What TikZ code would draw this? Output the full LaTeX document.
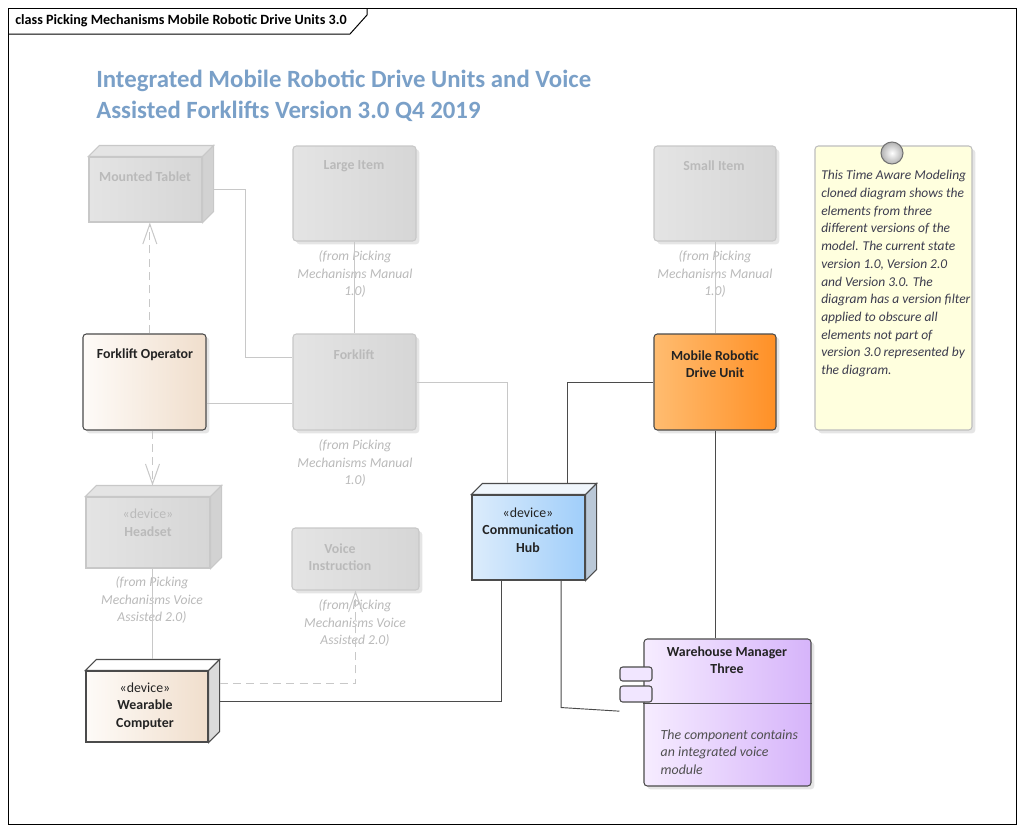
\documentclass[tikz,border=0pt]{standalone}
\usepackage{fontspec}
\setmainfont{Carlito}
\usetikzlibrary{arrows.meta,fit,shadows}

\definecolor{ttlblue}{RGB}{122,160,200}
\definecolor{ghostL}{RGB}{228,228,228}
\definecolor{ghostR}{RGB}{214,214,214}
\definecolor{ghostside}{RGB}{210,210,210}
\definecolor{ghostline}{RGB}{200,200,200}
\definecolor{ghosttext}{RGB}{186,186,186}
\definecolor{darkline}{RGB}{75,75,75}
\definecolor{darktext}{RGB}{35,35,35}
\definecolor{peachL}{RGB}{254,251,248}
\definecolor{peachR}{RGB}{240,222,204}
\definecolor{wearside}{RGB}{218,218,218}
\definecolor{blueL}{RGB}{220,236,251}
\definecolor{blueR}{RGB}{160,206,250}
\definecolor{hubtop}{RGB}{240,246,252}
\definecolor{hubside}{RGB}{186,200,215}
\definecolor{orangeL}{RGB}{255,188,112}
\definecolor{orangeR}{RGB}{255,144,38}
\definecolor{lilacL}{RGB}{246,236,255}
\definecolor{lilacR}{RGB}{214,180,250}
\definecolor{lilacpart}{RGB}{241,230,255}
\definecolor{notefill}{RGB}{255,255,222}
\definecolor{noteline}{RGB}{190,190,190}
\definecolor{notetext}{RGB}{60,60,78}

\tikzset{
  elem/.style={inner sep=0pt, rounded corners=2.5pt, line width=0.8pt,
    drop shadow={shadow xshift=2.5pt, shadow yshift=-2.5pt, opacity=0.1, fill=black}},
  ghost/.style={elem, draw=ghostline, left color=ghostL, right color=ghostR},
  live/.style={elem, draw=darkline},
  cube/.style={inner sep=0pt, line width=0.8pt},
  gtext/.style={text=ghosttext, font=\bfseries\fontsize{10.4}{13.2}\selectfont, align=center},
  ltext/.style={text=darktext, font=\bfseries\fontsize{10.4}{13.2}\selectfont, align=center},
  from/.style={text=ghosttext, font=\itshape\fontsize{10.2}{13.2}\selectfont, align=center},
  gline/.style={draw=ghostline, line width=0.75pt},
  dline/.style={draw=darkline, line width=0.7pt},
  gdash/.style={gline, dash pattern=on 6pt off 4pt},
  varrow/.style={-{Straight Barb[length=15pt,width=10.5pt]}}
}

\begin{document}
\begin{tikzpicture}[x=0.75pt,y=-0.75pt]
\useasboundingbox (0,0) rectangle (1025,832);
\fill[white] (0,0) rectangle (1025,832);

% frame and tab
\draw[line width=0.75pt] (8,8) rectangle (1016,824);
\draw[line width=0.75pt] (8,34) -- (350,34) -- (367,15) -- (367,8);
\node[anchor=west, inner sep=0pt, font=\bfseries\fontsize{10.6}{12}\selectfont] (frm) at (15,21)
  {class Picking Mechanisms Mobile Robotic Drive Units 3.0};

% heading
\node[anchor=west, inner sep=0pt, text=ttlblue, font=\bfseries\fontsize{18.6}{22}\selectfont] (ttl1) at (96,81)
  {Integrated Mobile Robotic Drive Units and Voice};
\node[anchor=west, inner sep=0pt, text=ttlblue, font=\bfseries\fontsize{18.6}{22}\selectfont] (ttl2) at (96,111)
  {Assisted Forklifts Version 3.0 Q4 2019};

% elements
\node[cube, draw=ghostline, left color=ghostL, right color=ghostR, fit={(89,157) (202,222)}] (tab) {};
\node[ghost, fit={(293,146) (416,241)}] (large) {};
\node[ghost, fit={(654,146) (776,241)}] (small) {};
\node[live, left color=peachL, right color=peachR, fit={(83,334) (206,430)}] (oper) {};
\node[ghost, fit={(293,334) (416,430)}] (fork) {};
\node[cube, draw=ghostline, left color=ghostL, right color=ghostR, fit={(86,497) (210,568)}] (head) {};
\node[ghost, fit={(292,528) (419,590)}] (voice) {};
\node[cube, draw=darkline, left color=peachL, right color=peachR, fit={(86,671) (208,742)}] (wear) {};
\node[cube, draw=darkline, left color=blueL, right color=blueR, fit={(472,495) (585,580)}] (hub) {};
\node[live, left color=orangeL, right color=orangeR, fit={(654,334) (776,430)}] (mobile) {};
\node[live, left color=lilacL, right color=lilacR, fit={(644,639) (811,786)}] (wm) {};
\node[elem, draw=noteline, fill=notefill, fit={(815,146) (972,430)}] (note) {};

% cube faces
\foreach \n/\tc/\sc/\lc in {tab/ghostL/ghostside/ghostline, head/ghostL/ghostside/ghostline,
                             wear/white/wearside/darkline, hub/hubtop/hubside/darkline}{
  \draw[line width=0.8pt, draw=\lc, fill=\tc] (\n.north west) -- ++(11,-11)
    -- ([shift={(11,-11)}]\n.north east) -- (\n.north east) -- cycle;
  \draw[line width=0.8pt, draw=\lc, fill=\sc] (\n.north east) -- ([shift={(11,-11)}]\n.north east)
    -- ([shift={(11,-11)}]\n.south east) -- (\n.south east) -- cycle;
}

% component parts
\draw[dline] ([yshift=7.1pt]wm.west) -- ([yshift=7.1pt]wm.east);
\node[draw=darkline, line width=0.8pt, fill=lilacpart, rounded corners=2pt, inner sep=0pt,
  fit={(620,667) (652,681)}] (wmp1) {};
\node[draw=darkline, line width=0.8pt, fill=lilacpart, rounded corners=2pt, inner sep=0pt,
  fit={(620,686) (652,702)}] (wmp2) {};

% note pin
\shade[inner color=white, outer color=black!30, draw=black!55, line width=0.8pt] (892,153) circle (11);
\node[inner sep=0pt] (pin) at (892,153) {};

% labels
\node[gtext] (tab-t) at (145,177) {Mounted Tablet};
\node[gtext] (large-t) at (354,166) {Large Item};
\node[gtext] (small-t) at (714,166) {Small Item};
\node[ltext] (oper-t) at (145,355) {Forklift Operator};
\node[gtext] (fork-t) at (354,355) {Forklift};
\node[gtext] (head-t) at (148,523) {\mdseries«device»\\Headset};
\node[gtext] (voice-t) at (340,557) {Voice\\Instruction};
\node[ltext] (wear-t) at (145,706) {\mdseries«device»\\Wearable\\Computer};
\node[ltext] (hub-t) at (528,530) {\mdseries«device»\\Communication\\Hub};
\node[ltext] (mobile-t) at (715,364) {Mobile Robotic\\Drive Unit};
\node[ltext] (wm-t) at (727,660) {Warehouse Manager\\Three};
\node[text=darktext!80, font=\itshape\fontsize{10.4}{13.2}\selectfont, align=left, anchor=west] (wm-d)
  at (656,752) {The component contains\\an integrated voice\\module};

\node[from] (large-f) at (355,274) {(from Picking\\Mechanisms Manual\\1.0)};
\node[from] (small-f) at (715,274) {(from Picking\\Mechanisms Manual\\1.0)};
\node[from] (fork-f) at (355,463) {(from Picking\\Mechanisms Manual\\1.0)};
\node[from] (head-f) at (152,600) {(from Picking\\Mechanisms Voice\\Assisted 2.0)};
\node[from] (voice-f) at (355,623) {(from Picking\\Mechanisms Voice\\Assisted 2.0)};

\node[text=notetext, font=\itshape\fontsize{10.1}{13.3}\selectfont, align=left, anchor=north west, inner sep=0pt]
  (note-t) at (821,170) {This Time Aware Modeling\\cloned diagram shows the\\elements from three\\
  different versions of the\\model. The current state\\version 1.0, Version 2.0\\and Version 3.0. The\\
  diagram has a version filter\\applied to obscure all\\elements not part of\\
  version 3.0 represented by\\the diagram.};

% connectors
\coordinate (k1) at (245,357);
\draw[gline] ([xshift=8.25pt]tab.east) -| (k1) -- (k1 -| fork.west);
\coordinate (d1) at ([xshift=4pt]oper.north);
\draw[gdash, varrow] (d1) -- (d1 |- tab.south);
\draw[gline] ([yshift=-15.75pt]oper.east) -- ([yshift=-15.75pt]fork.west);
\draw[gline] (large.south) -- (fork.north);
\draw[gline] (fork.east) -| ([xshift=-16.1pt,yshift=8.25pt]hub.north);
\coordinate (d2) at ([xshift=6pt]oper.south);
\draw[gdash, varrow] (d2) -- ([yshift=8.25pt]d2 |- head.north);
\coordinate (d3) at ([xshift=3pt]head.south);
\draw[gline] (d3) -- ([yshift=8.25pt]d3 |- wear.north);
\draw[gdash, varrow] ([xshift=8.25pt,yshift=16.9pt]wear.east) -| (voice.south);
\draw[gline] (small.south) -- (mobile.north);
\draw[dline] ([xshift=8.25pt,yshift=4pt]wear.east) -| ([xshift=-20.6pt]hub.south);
\draw[dline] ([xshift=28.9pt,yshift=8.25pt]hub.north) |- (mobile.west);
\draw[dline] ([xshift=24.4pt]hub.south) -- ++(0,127) -- ([xshift=-18pt,yshift=1pt]wm.west);
\draw[dline] (mobile.south) -- (mobile.south |- wm.north);
\end{tikzpicture}
\end{document}
